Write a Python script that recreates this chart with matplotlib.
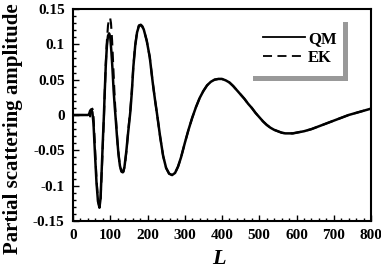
import matplotlib
matplotlib.use("Agg")
import matplotlib.pyplot as plt
from matplotlib.patches import Rectangle
from matplotlib.ticker import MultipleLocator
from matplotlib.lines import Line2D

# QM curve
qm_L = [0, 40, 43, 46, 49, 52, 55, 59, 63, 67, 71, 74, 78, 81, 83, 85, 88, 91, 94, 97,
        100, 103, 106, 109, 112, 115, 118, 122, 126, 130, 134, 138, 143, 148, 154, 158,
        162, 167, 172, 177, 182, 186, 190, 198, 206, 214, 220, 226, 234, 242, 250, 258,
        266, 274, 282, 290, 300, 310, 320, 330, 340, 350, 360, 370, 380, 390, 400, 410,
        420, 430, 440, 450, 460, 470, 480, 490, 500, 510, 520, 530, 540, 550, 560,
        570, 580, 590, 600, 620, 640, 660, 680, 700, 720, 740, 760, 780, 800]
qm_A = [0, 0, 0.001, 0.006, 0.008, 0.004, -0.012, -0.055, -0.095, -0.122, -0.131,
        -0.118, -0.065, -0.025, 0.0, 0.03, 0.07, 0.098, 0.112, 0.1155, 0.11, 0.09,
        0.065, 0.035, 0.012, -0.008, -0.03, -0.055, -0.072, -0.080, -0.081, -0.074,
        -0.052, -0.025, 0.005, 0.033, 0.068, 0.098, 0.117, 0.126, 0.127, 0.125, 0.121,
        0.105, 0.082, 0.046, 0.022, 0.0, -0.031, -0.058, -0.075, -0.083, -0.085,
        -0.082, -0.073, -0.06, -0.04, -0.021, -0.004, 0.011, 0.024, 0.034, 0.042,
        0.047, 0.050, 0.051, 0.051, 0.049, 0.046, 0.041, 0.035, 0.029, 0.023, 0.016,
        0.010, 0.003, -0.003, -0.009, -0.014, -0.018, -0.021, -0.023, -0.025, -0.026,
        -0.026, -0.026, -0.025, -0.023, -0.020, -0.016, -0.012, -0.008, -0.004, 0.0,
        0.003, 0.006, 0.009]

# EK curve
ek_L = [0, 40, 43, 46, 49, 52, 55, 59, 63, 67, 71, 74, 78, 81, 83, 85, 88, 91, 94, 97,
        99.5, 102, 105, 108, 111, 114, 117, 120, 124, 128, 132, 136, 140, 144, 149, 154,
        158, 162, 167, 172, 177, 182, 186, 190, 198, 206, 214, 220, 226, 234, 242, 250,
        258, 266, 274, 282, 290, 300, 310, 320, 330, 340, 350, 360, 370, 380, 390, 400,
        410, 420, 430, 440, 450, 460, 470, 480, 490, 500, 510, 520, 530, 540, 550, 560,
        570, 580, 590, 600, 620, 640, 660, 680, 700, 720, 740, 760, 780, 800]
ek_A = [0, 0, -0.001, -0.002, 0.005, 0.009, -0.002, -0.045, -0.09, -0.12, -0.131,
        -0.12, -0.07, -0.03, -0.004, 0.028, 0.072, 0.105, 0.127, 0.136, 0.138, 0.13,
        0.105, 0.07, 0.035, 0.005, -0.02, -0.042, -0.064, -0.076, -0.081, -0.080,
        -0.068, -0.048, -0.018, 0.008, 0.035, 0.069, 0.099, 0.118, 0.127, 0.128,
        0.126, 0.121, 0.105, 0.082, 0.046, 0.022, 0.0, -0.031, -0.058, -0.075, -0.083,
        -0.085, -0.082, -0.073, -0.06, -0.04, -0.021, -0.004, 0.011, 0.024, 0.034,
        0.042, 0.047, 0.050, 0.051, 0.051, 0.049, 0.046, 0.041, 0.035, 0.029, 0.023,
        0.016, 0.010, 0.003, -0.003, -0.009, -0.014, -0.018, -0.021, -0.023, -0.025,
        -0.026, -0.026, -0.026, -0.025, -0.023, -0.020, -0.016, -0.012, -0.008,
        -0.004, 0.0, 0.003, 0.006, 0.009]

x_ticks = [0, 100, 200, 300, 400, 500, 600, 700, 800]
y_ticks = [-0.15, -0.1, -0.05, 0, 0.05, 0.1, 0.15]
y_tick_labels = ["-0.15", "-0.1", "-0.05", "0", "0.05", "0.1", "0.15"]
series_names = ["QM", "EK"]

plt.rcParams['font.family'] = ['Liberation Serif', 'DejaVu Serif']
plt.rcParams['font.weight'] = 'bold'

fig = plt.figure(figsize=(3.81, 2.72), dpi=100)
ax = fig.add_axes([73/381, 1-221/272, 298/381, 212/272])

ax.plot(qm_L, qm_A, color='black', lw=1.8, solid_joinstyle='round')
ax.plot(ek_L, ek_A, color='black', lw=1.5, ls=(0, (5, 3)))

ax.set_xlim(0, 800)
ax.set_ylim(-0.15, 0.15)
ax.set_xticks(x_ticks)
ax.set_xticklabels([str(v) for v in x_ticks], fontsize=11, fontweight='bold')
ax.set_yticks(y_ticks)
ax.set_yticklabels(y_tick_labels, fontsize=11, fontweight='bold')
ax.xaxis.set_minor_locator(MultipleLocator(20))
ax.yaxis.set_minor_locator(MultipleLocator(0.01))
ax.tick_params(which='both', direction='in', top=False, right=False, width=1)
ax.tick_params(which='major', length=4)
ax.tick_params(axis='x', which='major', pad=6)
ax.tick_params(axis='y', which='major', pad=6)
ax.tick_params(which='minor', length=2.5)
for s in ax.spines.values():
    s.set_linewidth(1.5)

fig.text(219/381, 1-259/272, "L", fontsize=16, fontweight='bold', fontstyle='italic',
         ha='center', va='center')
fig.text(13/381, 1-128.5/272, "Partial scattering amplitude", fontsize=15,
         fontweight='bold', rotation=90, ha='center', va='center')

# legend box with shadow
bx0, bx1 = (248-73)/298, (343-73)/298
by0, by1 = 1-(76-9)/212, 1-(17-9)/212
dx, dy = 5/298, 5/212
ax.add_patch(Rectangle((bx0+dx, by0-dy), bx1-bx0, by1-by0, transform=ax.transAxes,
                       facecolor='#999999', edgecolor='none', zorder=5))
ax.add_patch(Rectangle((bx0, by0), bx1-bx0, by1-by0, transform=ax.transAxes,
                       facecolor='white', edgecolor='none', zorder=6))
handles = [Line2D([], [], color='black', lw=1.3),
           Line2D([], [], color='black', lw=1.3, ls=(0, (5, 3)))]
leg = ax.legend(handles, series_names, loc='upper left',
                bbox_to_anchor=((263-73)/298, 1-(31-9)/212), frameon=False,
                handlelength=2.5, handletextpad=0.2, borderpad=0,
                borderaxespad=0, labelspacing=0.15, prop={'weight': 'bold', 'size': 12})
leg.set_zorder(7)

fig.savefig("out.png", dpi=100)
